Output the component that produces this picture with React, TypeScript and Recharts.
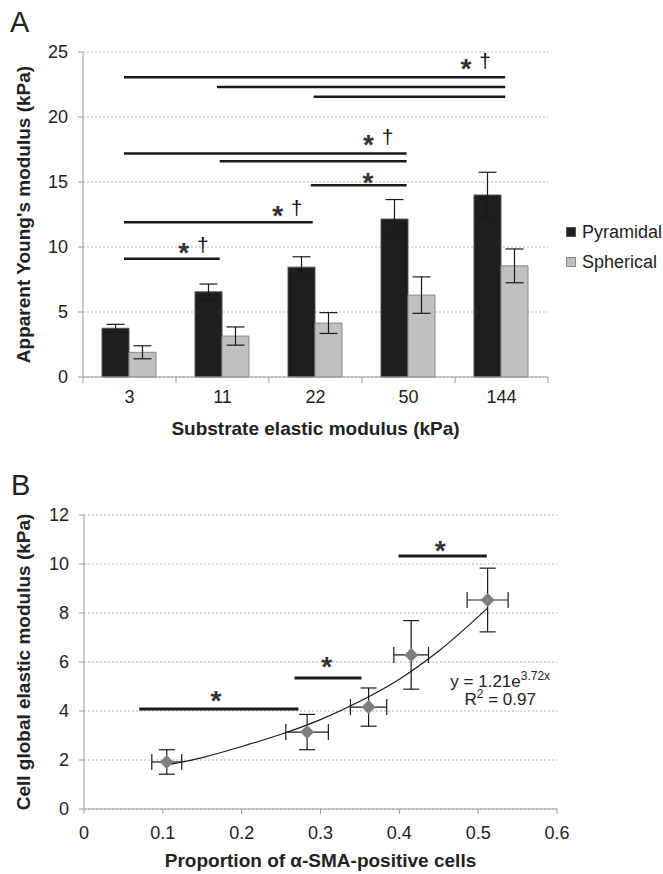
import React from 'react';
import {
  ComposedChart, Bar, Scatter, XAxis, YAxis, CartesianGrid, ErrorBar,
  ReferenceLine, ReferenceDot, Legend,
} from 'recharts';

// ---- Panel A data ----
const substrates = ['3', '11', '22', '50', '144'];
const pyramidal = [3.75, 6.55, 8.45, 12.15, 14.0];
const pyramidalErr = [0.3, 0.6, 0.8, 1.5, 1.75];
const spherical = [1.9, 3.15, 4.15, 6.3, 8.55];
const sphericalErr = [0.5, 0.7, 0.8, 1.4, 1.3];
const yTicksA = [0, 5, 10, 15, 20, 25];
const xTicksA = [0, 0.5, 1, 1.5, 2, 2.5, 3, 3.5, 4, 4.5, 5];

// significance bars, x in category units (0..5), y in kPa
const sigFromA = [0.44, 1.44, 2.48, 0.44, 1.47, 2.45, 0.44, 0.44];
const sigToA = [4.54, 4.54, 4.54, 3.48, 3.48, 3.48, 2.47, 1.47];
const sigLevelA = [23.05, 22.3, 21.55, 17.2, 16.6, 14.75, 11.9, 9.1];
const markXA = [4.215, 3.167, 3.065, 2.19, 1.18];
const markYA = [24.2, 18.4, 15.5, 12.9, 10.1];
const markDaggerA = [true, true, false, true, true];

const seriesNames = ['Pyramidal', 'Spherical'];
const seriesFills = ['#1e1e1e', '#bfc0c2'];
const seriesStrokes = ['#555555', '#8a8a8a'];

// ---- Panel B data ----
const smaProportion = [0.105, 0.283, 0.361, 0.415, 0.512];
const smaErr = [0.019, 0.027, 0.023, 0.022, 0.026];
const cellModulus = [1.92, 3.14, 4.16, 6.29, 8.53];
const cellModulusErr = [0.5, 0.72, 0.78, 1.4, 1.3];
// fitted curve
const trendX = [0.105, 0.15, 0.2, 0.25, 0.3, 0.35, 0.4, 0.45, 0.512];
const trendY = [1.8, 2.1, 2.55, 3.05, 3.65, 4.4, 5.3, 6.45, 8.2];
const xTicksB = [0, 0.1, 0.2, 0.3, 0.4, 0.5, 0.6];
const yTicksB = [0, 2, 4, 6, 8, 10, 12];
const sigFromB = [0.07, 0.267, 0.399];
const sigToB = [0.272, 0.352, 0.511];
const sigLevelB = [4.08, 5.35, 10.33];
const markXB = [0.1675, 0.308, 0.452];
const markYB = [4.69, 6.08, 10.82];

// each category sits in the middle of its unit slot on the x axis
const dataA = substrates.map((cat, i) => ({
  cat,
  pos: i + 0.5,
  Pyramidal: pyramidal[i],
  pErr: pyramidalErr[i],
  Spherical: spherical[i],
  sErr: sphericalErr[i],
}));

const pointsB = smaProportion.map((x, i) => ({ x, y: cellModulus[i], ex: smaErr[i], ey: cellModulusErr[i] }));
const trendB = trendX.map((x, i) => ({ x, y: trendY[i] }));

const FONT = '"Liberation Sans", Arial, sans-serif';
const axisGray = '#9a9a9a';
const labelStyle = { fontWeight: 'bold', fontSize: 19, fill: '#222' };

const CatTick = (props: any) => {
  const { x, y, payload } = props;
  const v = payload.value;
  if (Number.isInteger(v)) {
    return <line x1={x} y1={y} x2={x} y2={y + 6} stroke={axisGray} />;
  }
  return (
    <text x={x} y={y + 26} textAnchor="middle" fontSize={18} fill="#222">
      {substrates[Math.floor(v)]}
    </text>
  );
};

const StarMark = (props: any) => {
  const { cx, cy, dagger } = props;
  if (!dagger) {
    return (
      <text x={cx} y={cy + 16} textAnchor="middle" fontSize={28} fontWeight="bold" fill="#333">*</text>
    );
  }
  return (
    <g>
      <text x={cx - 9} y={cy + 16} textAnchor="middle" fontSize={28} fontWeight="bold" fill="#333">*</text>
      <text x={cx + 10} y={cy + 6} textAnchor="middle" fontSize={21} fill="#111">†</text>
    </g>
  );
};

const Diamond = (props: any) => {
  const { cx, cy } = props;
  return <polygon points={`${cx},${cy - 7} ${cx + 7},${cy} ${cx},${cy + 7} ${cx - 7},${cy}`} fill="#7f7f7f" />;
};

const Equation = (props: any) => {
  const { cx, cy } = props;
  return (
    <g fill="#222" fontSize={17}>
      <text x={cx} y={cy} textAnchor="middle">
        y = 1.21e<tspan dy={-7} fontSize={12}>3.72x</tspan>
      </text>
      <text x={cx} y={cy + 18} textAnchor="middle">
        R<tspan dy={-7} fontSize={12}>2</tspan><tspan dy={7}> = 0.97</tspan>
      </text>
    </g>
  );
};

const LegendA = () => (
  <div style={{ fontFamily: FONT, fontSize: 18, color: '#222' }}>
    {seriesNames.map((name, i) => (
      <div key={name} style={{ display: 'flex', alignItems: 'center', height: 22, marginBottom: 8 }}>
        <span style={{ display: 'inline-block', width: 8, height: 8, background: seriesFills[i], border: `1px solid ${seriesStrokes[i]}` }} />
        <span style={{ marginLeft: 6 }}>{name}</span>
      </div>
    ))}
  </div>
);

export default function App() {
  return (
    <div style={{ position: 'absolute', left: 0, top: 0, width: 663, height: 874, background: '#fff', fontFamily: FONT }}>
      <div style={{ position: 'absolute', left: 10, top: 8, fontSize: 29, lineHeight: 1, color: '#222' }}>A</div>
      <div style={{ position: 'absolute', left: 11, top: 471, fontSize: 29, lineHeight: 1, color: '#222' }}>B</div>

      {/* Panel A */}
      <div style={{ position: 'absolute', left: 0, top: 0 }}>
        <ComposedChart width={663} height={440} data={dataA} barGap={0}
          margin={{ top: 52, right: 115, bottom: 3, left: 0 }}>
          <CartesianGrid vertical={false} strokeDasharray="2 2" stroke="#b3b3b3" />
          <XAxis dataKey="pos" type="number" domain={[0, 5]} allowDataOverflow ticks={xTicksA} interval={0}
            tick={<CatTick />} tickLine={false} tickSize={0} tickMargin={0} height={60}
            axisLine={{ stroke: axisGray }}
            label={{ value: 'Substrate elastic modulus (kPa)', position: 'insideBottom', offset: 2, style: labelStyle }} />
          <YAxis domain={[0, 25]} ticks={yTicksA} interval={0} width={83} tickSize={5} tickMargin={10}
            tick={{ fontSize: 18, fill: '#222' }} axisLine={{ stroke: axisGray }} tickLine={{ stroke: axisGray }}
            label={{ value: "Apparent Young's modulus (kPa)", angle: -90, position: 'insideLeft', offset: 23,
              style: { ...labelStyle, textAnchor: 'middle' } }} />
          <Legend layout="horizontal" align="center" verticalAlign="middle"
            wrapperStyle={{ left: 566, top: 221, width: 'auto' }} content={() => <LegendA />} />
          <Bar dataKey="Pyramidal" barSize={27} fill={seriesFills[0]} stroke={seriesStrokes[0]}
            strokeWidth={1} isAnimationActive={false}>
            <ErrorBar dataKey="pErr" width={9} stroke="#1a1a1a" strokeWidth={1.2} />
          </Bar>
          <Bar dataKey="Spherical" barSize={27} fill={seriesFills[1]} stroke={seriesStrokes[1]}
            strokeWidth={1} isAnimationActive={false}>
            <ErrorBar dataKey="sErr" width={9} stroke="#1a1a1a" strokeWidth={1.2} />
          </Bar>
          {sigLevelA.map((lv, i) => (
            <ReferenceLine key={`sa${i}`} segment={[{ x: sigFromA[i], y: lv }, { x: sigToA[i], y: lv }]}
              stroke="#1a1a1a" strokeWidth={2.5} />
          ))}
          {markXA.map((mx, i) => (
            <ReferenceDot key={`ma${i}`} x={mx} y={markYA[i]}
              shape={(p: any) => <StarMark cx={p.cx} cy={p.cy} dagger={markDaggerA[i]} />} />
          ))}
        </ComposedChart>
      </div>

      {/* Panel B */}
      <div style={{ position: 'absolute', left: 0, top: 430 }}>
        <ComposedChart width={663} height={444} margin={{ top: 85, right: 106, bottom: 5, left: 0 }}>
          <CartesianGrid vertical={false} strokeDasharray="2 2" stroke="#b3b3b3" />
          <XAxis type="number" dataKey="x" domain={[0, 0.6]} ticks={xTicksB} interval={0} height={60}
            tickSize={5} tickMargin={12} tick={{ fontSize: 18, fill: '#222' }}
            axisLine={{ stroke: axisGray }} tickLine={{ stroke: axisGray }}
            label={{ value: 'Proportion of α-SMA-positive cells', position: 'insideBottom', offset: 2, style: labelStyle }} />
          <YAxis type="number" dataKey="y" domain={[0, 12]} ticks={yTicksB} interval={0} width={84}
            tickSize={5} tickMargin={10} tick={{ fontSize: 18, fill: '#222' }}
            axisLine={{ stroke: axisGray }} tickLine={{ stroke: axisGray }}
            label={{ value: 'Cell global elastic modulus (kPa)', angle: -90, position: 'insideLeft', offset: 23,
              style: { ...labelStyle, textAnchor: 'middle' } }} />
          <Scatter data={trendB} line={{ stroke: '#1a1a1a', strokeWidth: 1.2 }} lineJointType="monotoneX"
            shape={() => <g />} isAnimationActive={false} />
          <Scatter data={pointsB} fill="#7f7f7f" shape={<Diamond />} isAnimationActive={false}>
            <ErrorBar dataKey="ey" direction="y" width={8} stroke="#1a1a1a" strokeWidth={1.2} />
            <ErrorBar dataKey="ex" direction="x" width={8} stroke="#1a1a1a" strokeWidth={1.2} />
          </Scatter>
          {sigLevelB.map((lv, i) => (
            <ReferenceLine key={`sb${i}`} segment={[{ x: sigFromB[i], y: lv }, { x: sigToB[i], y: lv }]}
              stroke="#1a1a1a" strokeWidth={3} />
          ))}
          {markXB.map((mx, i) => (
            <ReferenceDot key={`mb${i}`} x={mx} y={markYB[i]}
              shape={(p: any) => <StarMark cx={p.cx} cy={p.cy} dagger={false} />} />
          ))}
          <ReferenceDot x={0.528} y={4.98} shape={(p: any) => <Equation cx={p.cx} cy={p.cy} />} />
        </ComposedChart>
      </div>
    </div>
  );
}
